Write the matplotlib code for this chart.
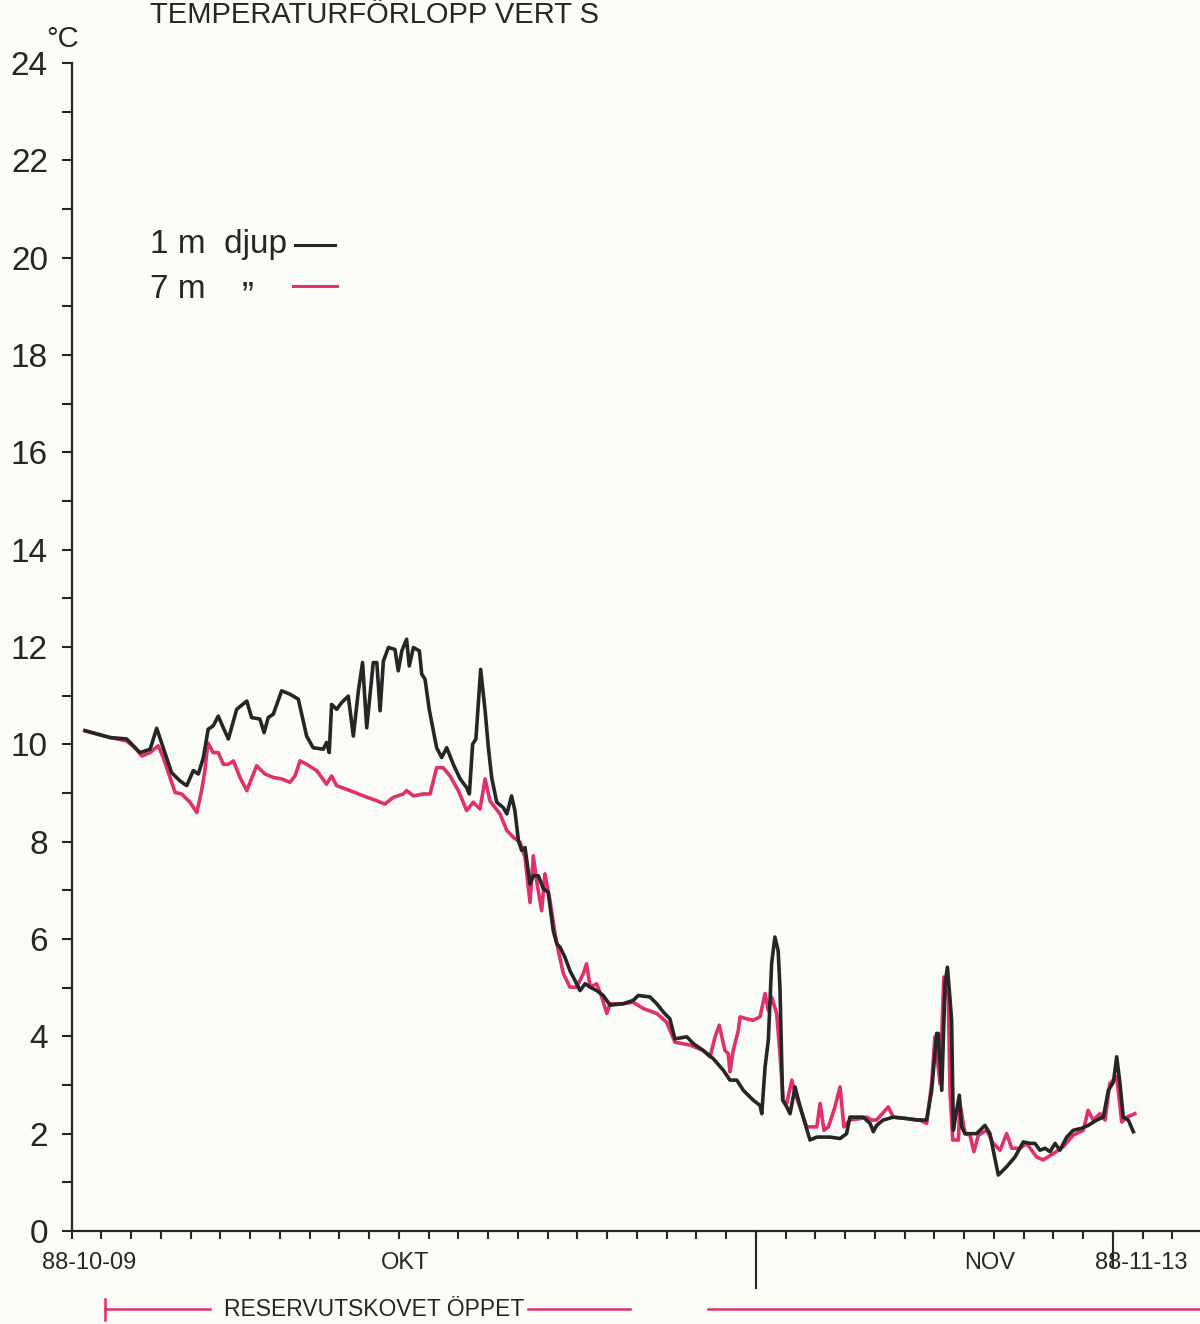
import matplotlib
matplotlib.use("Agg")
import matplotlib.pyplot as plt
import matplotlib.transforms as mtransforms

FONT = ["Liberation Sans", "DejaVu Sans"]
plt.rcParams["font.family"] = FONT

# Days since 1988-10-09, temperature in deg C
depth1_days = [
    0.45, 1.29, 1.85, 2.30, 2.64, 2.86, 3.08, 3.36, 3.64, 3.87,
    4.09, 4.26, 4.43, 4.59, 4.76, 4.93, 5.10, 5.27, 5.55, 5.89,
    6.05, 6.33, 6.47, 6.61, 6.78, 7.06, 7.34, 7.62, 7.90, 8.12,
    8.46, 8.57, 8.66, 8.74, 8.91, 9.08, 9.30, 9.47, 9.64, 9.78,
    9.92, 10.14, 10.26, 10.37, 10.48, 10.65, 10.87, 10.98, 11.10, 11.26,
    11.35, 11.49, 11.69, 11.77, 11.88, 12.02, 12.27, 12.44, 12.61, 12.83,
    13.06, 13.28, 13.37, 13.48, 13.59, 13.75, 13.90, 14.01, 14.12, 14.29,
    14.51, 14.63, 14.79, 14.90, 15.02, 15.13, 15.24, 15.41, 15.52, 15.69,
    15.86, 16.02, 16.19, 16.31, 16.42, 16.58, 16.75, 16.92, 17.09, 17.26,
    17.43, 17.65, 17.87, 18.10, 18.54, 18.88, 19.05, 19.44, 19.67, 19.89,
    20.11, 20.28, 20.68, 20.90, 21.23, 21.57, 21.91, 22.13, 22.36, 22.58,
    22.91, 23.14, 23.20, 23.31, 23.42, 23.53, 23.64, 23.75, 23.81, 23.90,
    24.04, 24.15, 24.32, 24.43, 24.59, 24.82, 25.05, 25.49, 25.83, 26.05,
    26.16, 26.61, 26.84, 26.95, 27.06, 27.28, 27.62, 28.07, 28.41, 28.74,
    28.91, 29.08, 29.13, 29.25, 29.36, 29.44, 29.53, 29.58, 29.64, 29.75,
    29.84, 29.92, 30.03, 30.42, 30.70, 30.87, 30.98, 31.15, 31.43, 31.71,
    31.99, 32.22, 32.38, 32.55, 32.72, 32.89, 33.06, 33.22, 33.45, 33.67,
    33.95, 34.17, 34.46, 34.68, 34.85, 35.02, 35.13, 35.24, 35.35, 35.52,
    35.69,
]
depth1_temp = [
    10.28, 10.14, 10.11, 9.83, 9.90, 10.33, 9.93, 9.42, 9.25, 9.15,
    9.46, 9.39, 9.73, 10.31, 10.38, 10.58, 10.34, 10.11, 10.72, 10.89,
    10.55, 10.52, 10.24, 10.55, 10.62, 11.10, 11.03, 10.93, 10.17, 9.93,
    9.90, 10.04, 9.83, 10.82, 10.72, 10.86, 10.99, 10.17, 11.10, 11.68,
    10.34, 11.68, 11.68, 10.69, 11.71, 11.99, 11.95, 11.51, 11.92, 12.16,
    11.61, 11.99, 11.92, 11.44, 11.34, 10.72, 9.93, 9.73, 9.93, 9.59,
    9.29, 9.11, 8.98, 10.00, 10.11, 11.54, 10.69, 9.93, 9.32, 8.81,
    8.70, 8.57, 8.94, 8.64, 8.02, 7.82, 7.88, 7.13, 7.30, 7.30,
    7.03, 6.96, 6.17, 5.90, 5.83, 5.63, 5.35, 5.15, 4.94, 5.08,
    5.01, 4.94, 4.84, 4.64, 4.67, 4.74, 4.84, 4.81, 4.67, 4.50,
    4.36, 3.95, 3.99, 3.85, 3.71, 3.54, 3.30, 3.10, 3.10, 2.89,
    2.69, 2.58, 2.41, 3.37, 3.92, 5.49, 6.04, 5.76, 5.01, 2.69,
    2.55, 2.41, 2.96, 2.69, 2.34, 1.87, 1.93, 1.93, 1.90, 2.00,
    2.34, 2.34, 2.21, 2.04, 2.17, 2.28, 2.34, 2.31, 2.28, 2.28,
    2.89, 4.06, 4.06, 2.89, 5.08, 5.42, 4.74, 4.33, 2.07, 2.48,
    2.79, 2.14, 2.00, 2.00, 2.17, 2.00, 1.66, 1.15, 1.32, 1.52,
    1.83, 1.80, 1.80, 1.66, 1.70, 1.63, 1.80, 1.66, 1.93, 2.07,
    2.11, 2.17, 2.28, 2.34, 2.89, 3.06, 3.58, 3.03, 2.34, 2.28,
    2.04,
]

depth7_days = [
    0.45, 1.29, 1.85, 2.13, 2.36, 2.64, 2.91, 3.08, 3.31, 3.48,
    3.70, 3.98, 4.21, 4.37, 4.48, 4.58, 4.76, 4.93, 5.10, 5.27,
    5.44, 5.66, 5.89, 6.22, 6.50, 6.78, 7.06, 7.34, 7.51, 7.68,
    7.90, 8.24, 8.57, 8.74, 8.91, 9.36, 9.81, 10.26, 10.53, 10.81,
    11.15, 11.26, 11.49, 11.82, 12.05, 12.27, 12.49, 12.72, 13.00, 13.28,
    13.50, 13.73, 13.90, 14.06, 14.40, 14.63, 14.85, 15.07, 15.24, 15.41,
    15.52, 15.63, 15.80, 15.91, 16.08, 16.25, 16.36, 16.53, 16.75, 16.98,
    17.20, 17.31, 17.43, 17.65, 17.82, 17.99, 18.10, 18.54, 18.88, 19.22,
    19.67, 20.00, 20.28, 20.79, 21.23, 21.46, 21.63, 21.77, 21.96, 22.07,
    22.13, 22.24, 22.41, 22.47, 22.69, 22.91, 23.14, 23.31, 23.42, 23.53,
    23.70, 23.81, 23.92, 24.04, 24.21, 24.32, 24.48, 24.71, 24.88, 25.05,
    25.16, 25.29, 25.44, 25.66, 25.83, 25.96, 26.16, 26.50, 26.73, 26.89,
    27.06, 27.45, 27.62, 28.07, 28.52, 28.74, 28.91, 29.02, 29.19, 29.32,
    29.47, 29.53, 29.62, 29.81, 29.86, 30.03, 30.20, 30.33, 30.48, 30.76,
    30.98, 31.21, 31.43, 31.60, 31.88, 32.10, 32.44, 32.66, 33.00, 33.33,
    33.67, 34.01, 34.17, 34.34, 34.57, 34.74, 34.90, 35.13, 35.30, 35.47,
    35.74,
]
depth7_temp = [
    10.28, 10.14, 10.07, 9.93, 9.76, 9.83, 9.97, 9.73, 9.32, 9.01,
    8.98, 8.81, 8.60, 9.05, 9.46, 10.03, 9.83, 9.83, 9.59, 9.59,
    9.66, 9.32, 9.05, 9.56, 9.39, 9.32, 9.29, 9.22, 9.35, 9.66,
    9.59, 9.46, 9.18, 9.35, 9.15, 9.05, 8.94, 8.84, 8.77, 8.91,
    8.98, 9.05, 8.94, 8.98, 8.98, 9.52, 9.52, 9.35, 9.05, 8.64,
    8.81, 8.67, 9.29, 8.84, 8.57, 8.23, 8.09, 7.99, 7.68, 6.75,
    7.71, 7.20, 6.58, 7.34, 6.79, 6.11, 5.76, 5.29, 5.01, 5.01,
    5.29, 5.49, 5.01, 5.08, 4.81, 4.47, 4.67, 4.67, 4.70, 4.57,
    4.47, 4.29, 3.88, 3.82, 3.71, 3.58, 3.99, 4.23, 3.71, 3.65,
    3.27, 3.71, 4.12, 4.40, 4.36, 4.33, 4.40, 4.88, 4.53, 4.81,
    4.47, 3.65, 2.69, 2.62, 3.10, 2.82, 2.55, 2.14, 2.14, 2.14,
    2.62, 2.07, 2.14, 2.55, 2.96, 2.14, 2.28, 2.31, 2.34, 2.28,
    2.28, 2.55, 2.34, 2.31, 2.28, 2.21, 3.03, 3.99, 3.03, 5.22,
    4.74, 2.82, 1.87, 1.87, 2.62, 2.00, 1.97, 1.63, 1.97, 2.07,
    1.80, 1.66, 2.00, 1.70, 1.70, 1.80, 1.52, 1.46, 1.59, 1.73,
    1.97, 2.07, 2.48, 2.28, 2.41, 2.28, 3.03, 3.17, 2.24, 2.34,
    2.41,
]

# Axis annotation
x_label_days = [0.6, 11.2, 30.85, 35.95]
x_labels = ["88-10-09", "OKT", "NOV", "88-11-13"]
month_break_days = [23, 35]
month_break_len = [0.049, 0.030]   # in axes fraction
y_ticks = list(range(0, 25, 2))
open_period_days = [1.12, 37.93]
open_text_day = 10.17
open_gaps = [(4.65, 15.35), (18.77, 21.39)]

BLACK = "#262626"
PINK = "#e0306e"
PAPER = "#fcfcf7"

W, H = 1200, 1324
fig = plt.figure(figsize=(W / 100, H / 100), dpi=100, facecolor=PAPER)
ax = fig.add_axes([71.6 / W, 1 - 1231 / H, (W - 71.6) / W, (1231 - 63) / H])
ax.set_facecolor(PAPER)

ax.plot(depth7_days, depth7_temp, color=PINK, lw=2.6, solid_joinstyle="round")
ax.plot(depth1_days, depth1_temp, color=BLACK, lw=2.6, solid_joinstyle="round")

ax.set_xlim(0, 37.93)
ax.set_ylim(0, 24)
for s in ("top", "right"):
    ax.spines[s].set_visible(False)
for s in ("left", "bottom"):
    ax.spines[s].set_color(BLACK)
    ax.spines[s].set_linewidth(1.6)

ax.set_yticks(y_ticks)
ax.set_yticks(range(0, 25), minor=True)
ax.set_yticklabels([str(v) for v in y_ticks], fontsize=24, color=BLACK)
ax.tick_params(axis="y", which="both", direction="out", length=7,
               width=1.5, color=BLACK, pad=10)
ax.set_xticks(range(0, 38))
ax.set_xticklabels([])
ax.tick_params(axis="x", which="both", direction="out", length=6,
               width=1.5, color=BLACK)

xt = mtransforms.blended_transform_factory(ax.transData, ax.transAxes)
for d, ln in zip(month_break_days, month_break_len):
    ax.plot([d, d], [0, -ln], color=BLACK, lw=1.5, transform=xt, clip_on=False)

for d, lab in zip(x_label_days, x_labels):
    ax.text(d, -0.027, lab, transform=xt, ha="center", va="center",
            fontsize=17, color=BLACK)

# Legend drawn as hand lettering
fig.text(150 / W, 1 - 245 / H, "1 m  djup", fontsize=24, color=BLACK,
         va="center", ha="left")
fig.text(150 / W, 1 - 290 / H, "7 m", fontsize=24, color=BLACK,
         va="center", ha="left")
fig.text(248 / W, 1 - 298 / H, "\u201d", fontsize=26, color=BLACK,
         va="center", ha="center")
fig.add_artist(plt.Line2D([295 / W, 335 / W], [1 - 245 / H] * 2, color=BLACK, lw=2.2))
fig.add_artist(plt.Line2D([293 / W, 337 / W], [1 - 286 / H] * 2, color=PINK, lw=2.2))

# Title and unit
fig.text(150 / W, 1 - 23 / H, "TEMPERATURFÖRLOPP VERT S", fontsize=21,
         color=BLACK, ha="left", va="baseline")
fig.text(46 / W, 1 - 47 / H, "°C", fontsize=21, color=BLACK,
         ha="left", va="baseline")

# Period when the reserve outlet was open
yt = mtransforms.blended_transform_factory(ax.transData, fig.transFigure)
y_line = 1 - 1309 / H
segments = [(open_period_days[0], open_gaps[0][0]),
            (open_gaps[0][1], open_gaps[1][0]),
            (open_gaps[1][1], open_period_days[1])]
for a, b in segments:
    ax.plot([a, b], [y_line, y_line], color=PINK, lw=1.8, transform=yt, clip_on=False)
ax.plot([open_period_days[0]] * 2, [1 - 1299 / H, 1 - 1320 / H], color=PINK,
        lw=1.8, transform=yt, clip_on=False)
ax.text(open_text_day, y_line, "RESERVUTSKOVET ÖPPET", transform=yt,
        ha="center", va="center", fontsize=16.5, color=BLACK)

fig.savefig("out.png", dpi=100, facecolor=PAPER)
